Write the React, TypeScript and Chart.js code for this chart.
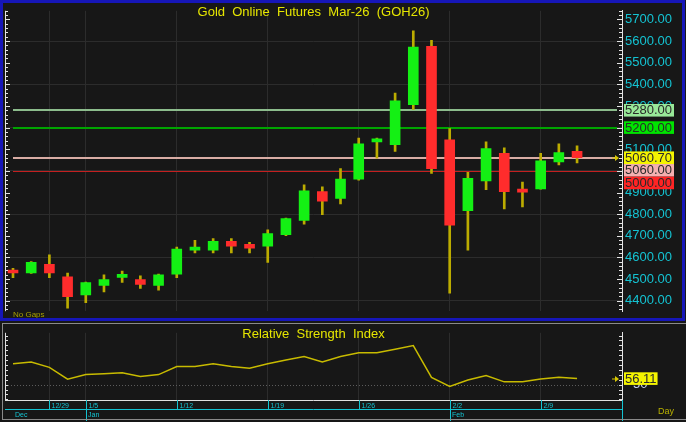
import React, { useEffect, useRef } from 'react';
import { Chart, registerables } from 'chart.js';
Chart.register(...registerables);

// ---------- data ----------
const dates = ['12/24','12/26','12/29','12/30','1/5','1/6','1/7','1/8','1/9','1/12','1/13','1/14','1/15','1/16','1/19','1/20','1/21','1/22','1/23','1/26','1/27','1/28','1/29','1/30','2/2','2/3','2/4','2/5','2/6','2/9','2/10','2/11'];
const opens  = [4542,4528,4568,4510,4427,4471,4508,4497,4471,4523,4634,4634,4674,4661,4652,4705,4771,4904,4873,4962,5134,5121,5306,5576,5143,4816,4953,5081,4906,4917,5041,5090];
const highs  = [4550,4581,4612,4528,4486,4519,4537,4515,4523,4648,4679,4687,4687,4670,4727,4782,4935,4926,5010,5152,5152,5360,5647,5603,5196,4993,5134,5107,4948,5081,5125,5116];
const lows   = [4506,4526,4506,4365,4391,4440,4484,4457,4449,4506,4621,4621,4621,4621,4577,4701,4754,4798,4847,4957,5059,5090,5284,4988,4435,4634,4913,4824,4833,4915,5028,5037];
const closes = [4528,4577,4528,4418,4484,4497,4512,4475,4519,4639,4639,4674,4652,4643,4710,4780,4908,4860,4962,5125,5143,5324,5572,5010,4749,4966,5103,4904,4902,5046,5085,5060.7];
const rsi    = [71.3,73.1,67.6,55.6,60.2,61.1,62.0,58.3,60.2,68.5,68.5,71.3,68.5,66.7,71.3,75.0,78.7,73.1,78.7,82.4,82.4,86.1,89.8,57.4,48.1,54.6,59.3,52.8,52.8,55.6,57.4,56.11];

const weekLabels = ['12/29','1/5','1/12','1/19','1/26','2/2','2/9'];
const monthLabels = ['Dec','Jan','Feb'];
const monthStartDates = ['12/24','1/5','2/2'];
const monthTickDates = ['1/5','2/2'];

const levelValues = [5280, 5200, 5060.7, 5060, 5000];
const levelLabels = levelValues.map(v => v.toFixed(2));

const priceTickValues: number[] = [];
for (let v = 4360; v <= 5740; v += 20) priceTickValues.push(v);
const rsiTickValues: number[] = [];
for (let v = 35; v <= 100; v += 5) rsiTickValues.push(v);

const TITLE = 'Gold  Online  Futures  Mar-26  (GOH26)';
const RSI_TITLE = 'Relative  Strength  Index';

// ---------- styles ----------
const FONT = "'Liberation Sans', Arial, sans-serif";
const BG = '#171717';
const GRID = '#2c2c2c';
const CYAN = '#14c3d2';
const YELLOW = '#e6e600';
const WICK = '#bcac00';
const UP = '#14f014';
const DOWN = '#ff2c2c';
const RSI_COLOR = '#c8bb00';
const levelLineColors = ['#8cbc8c', '#00a400', '#d8aca4', '#e0a0a0', '#c42020'];
const levelLineWidths = [2, 2, 2, 1, 1];
const levelBadgeColors = ['#98e898', '#00e400', '#f4f400', '#f4b0b0', '#ff2424'];

const X_MIN = -0.44;
const X_MAX = 33.47;
const weekIdx = weekLabels.map(l => dates.indexOf(l));

function line(ctx: CanvasRenderingContext2D, x1: number, y1: number, x2: number, y2: number) {
  ctx.beginPath(); ctx.moveTo(x1, y1); ctx.lineTo(x2, y2); ctx.stroke();
}

function arrow(ctx: CanvasRenderingContext2D, x: number, y: number, color: string) {
  ctx.save();
  ctx.strokeStyle = color; ctx.fillStyle = color; ctx.lineWidth = 1;
  line(ctx, x - 6, y + 0.5, x - 1, y + 0.5);
  ctx.beginPath(); ctx.moveTo(x - 3, y - 2.5); ctx.lineTo(x + 1, y + 0.5); ctx.lineTo(x - 3, y + 3.5); ctx.closePath(); ctx.fill();
  ctx.restore();
}

const pricePlugin = {
  id: 'priceDecor',
  beforeDraw(chart: any) {
    const { ctx, width, height } = chart;
    ctx.save(); ctx.fillStyle = BG; ctx.fillRect(0, 0, width, height); ctx.restore();
  },
  beforeDatasetsDraw(chart: any) {
    const { ctx, chartArea, scales: { x, y } } = chart;
    const x0 = x.getPixelForValue(0);
    const x1 = chartArea.right - 5;
    ctx.save();
    for (let i = levelValues.length - 1; i >= 0; i--) {
      const py = Math.round(y.getPixelForValue(levelValues[i])) + (levelLineWidths[i] % 2 ? 0.5 : 0);
      ctx.strokeStyle = levelLineColors[i];
      ctx.lineWidth = levelLineWidths[i];
      line(ctx, x0, py, x1, py);
    }
    ctx.restore();
  },
  afterDraw(chart: any) {
    const { ctx, chartArea: { left, right, top, bottom }, scales: { x, y } } = chart;
    ctx.save();
    // axis ticks (inward)
    ctx.strokeStyle = '#e4e4e4'; ctx.lineWidth = 1;
    line(ctx, left + 0.5, top, left + 0.5, bottom);
    y.ticks.forEach((t: any) => {
      const py = Math.round(y.getPixelForValue(t.value)) + 0.5;
      const len = t.value % 100 === 0 ? 5 : 3;
      line(ctx, right - len, py, right, py);
      line(ctx, left, py, left + len, py);
    });
    // arrow on last price line
    const lastY = Math.round(y.getPixelForValue(levelValues[2]));
    arrow(ctx, right - 4, lastY - 0.5, '#d8c800');
    // badges
    ctx.font = `13px ${FONT}`;
    ctx.textBaseline = 'middle';
    ctx.textAlign = 'left';
    let prevBottom = -Infinity;
    const bh = 12.6;
    levelValues.forEach((v, i) => {
      const py = y.getPixelForValue(v);
      const t = Math.max(py - bh / 2, prevBottom);
      ctx.fillStyle = levelBadgeColors[i];
      ctx.fillRect(right + 2, t, 50, bh);
      ctx.fillStyle = '#2a2a2a';
      ctx.fillText(levelLabels[i], right + 3, t + bh / 2 + 0.5);
      prevBottom = t + bh;
    });
    // title
    ctx.fillStyle = YELLOW;
    ctx.textAlign = 'center';
    ctx.textBaseline = 'alphabetic';
    ctx.font = `13px ${FONT}`;
    ctx.fillText(TITLE, (left + right) / 2, 16);
    // No Gaps
    ctx.textAlign = 'left';
    ctx.fillStyle = '#a8a000';
    ctx.font = `8px ${FONT}`;
    ctx.fillText('No Gaps', 13, 317);
    // frame
    ctx.strokeStyle = '#1616b8'; ctx.lineWidth = 3;
    ctx.strokeRect(1.5, 1.5, 682, 318);
    ctx.restore();
  },
};

const rsiPlugin = {
  id: 'rsiDecor',
  beforeDraw(chart: any) {
    const { ctx, width, height } = chart;
    ctx.save(); ctx.fillStyle = BG; ctx.fillRect(0, 0, width, height); ctx.restore();
  },
  beforeDatasetsDraw(chart: any) {
    const { ctx, chartArea: { left, right }, scales: { y } } = chart;
    ctx.save();
    ctx.strokeStyle = '#5c5c5c'; ctx.lineWidth = 1; ctx.setLineDash([1, 2]);
    const py = Math.round(y.getPixelForValue(50)) + 0.5;
    line(ctx, left, py, right, py);
    ctx.restore();
  },
  afterDraw(chart: any) {
    const { ctx, chartArea: { left, right, top, bottom }, scales: { x, y } } = chart;
    ctx.save();
    // left / bottom axis lines and ticks
    ctx.strokeStyle = '#e0e0e0'; ctx.lineWidth = 1;
    line(ctx, left + 0.5, top, left + 0.5, bottom + 0.5);
    line(ctx, left, bottom + 0.5, right, bottom + 0.5);
    y.ticks.forEach((t: any) => {
      const py = Math.round(y.getPixelForValue(t.value)) + 0.5;
      line(ctx, right - 3, py, right, py);
      line(ctx, left, py, left + 3, py);
    });
    // date row
    ctx.strokeStyle = CYAN;
    line(ctx, left, bottom + 9.5, right, bottom + 9.5);
    line(ctx, right + 0.5, bottom, right + 0.5, bottom + 21);
    ctx.fillStyle = CYAN;
    ctx.font = `7px ${FONT}`;
    ctx.textAlign = 'left';
    ctx.textBaseline = 'alphabetic';
    weekLabels.forEach(l => {
      const px = Math.round(x.getPixelForValue(dates.indexOf(l))) + 0.5;
      const isMonth = monthTickDates.indexOf(l) >= 0;
      line(ctx, px, bottom, px, bottom + (isMonth ? 21 : 9));
      ctx.fillText(l, px + 2, bottom + 8);
    });
    monthLabels.forEach((m, i) => {
      const px = x.getPixelForValue(dates.indexOf(monthStartDates[i]));
      ctx.fillText(m, Math.round(px) + 2, bottom + 17);
    });
    // Day
    ctx.fillStyle = '#b8b000';
    ctx.font = `9px ${FONT}`;
    ctx.fillText('Day', 658, bottom + 14);
    // RSI badge
    const last = rsi[rsi.length - 1];
    const py = y.getPixelForValue(last);
    arrow(ctx, right - 4, Math.round(py) - 0.5, '#d8c800');
    ctx.font = `13px ${FONT}`;
    const txt = last.toFixed(2);
    const w = ctx.measureText(txt).width;
    ctx.fillStyle = '#f4f400';
    ctx.fillRect(right + 2, py - 6.3, w + 2, 12.6);
    ctx.fillStyle = '#2a2a2a';
    ctx.textBaseline = 'middle';
    ctx.fillText(txt, right + 3, py + 0.5);
    // title
    ctx.fillStyle = YELLOW;
    ctx.textAlign = 'center';
    ctx.textBaseline = 'alphabetic';
    ctx.fillText(RSI_TITLE, (left + right) / 2, 16);
    // frame
    ctx.strokeStyle = '#8a8a8a'; ctx.lineWidth = 1;
    line(ctx, 2, 1.5, 686, 1.5);
    line(ctx, 2.5, 1, 2.5, 98);
    line(ctx, 2, 97.5, 686, 97.5);
    ctx.restore();
  },
};

function xScale() {
  return {
    type: 'linear' as const,
    min: X_MIN,
    max: X_MAX,
    offset: false,
    afterBuildTicks: (s: any) => { s.ticks = weekIdx.map(v => ({ value: v })); },
    afterFit: (s: any) => { s.height = 0; },
    ticks: { display: false },
    grid: { color: GRID, drawTicks: false, offset: false },
    border: { display: false },
  };
}

export default function App() {
  const priceRef = useRef<HTMLCanvasElement | null>(null);
  const rsiRef = useRef<HTMLCanvasElement | null>(null);

  useEffect(() => {
    document.body.style.margin = '0';
    const bodyColors = closes.map((c, i) => (c >= opens[i] ? UP : DOWN));
    const price = new Chart(priceRef.current as HTMLCanvasElement, {
      type: 'bar',
      data: {
        datasets: [
          {
            label: 'body',
            data: dates.map((_, i) => ({ x: i, y: [opens[i], closes[i]] })) as any,
            backgroundColor: bodyColors,
            barThickness: 10,
            minBarLength: 3,
            grouped: false,
            order: 0,
          } as any,
          {
            label: 'wick',
            data: dates.map((_, i) => ({ x: i, y: [lows[i], highs[i]] })) as any,
            backgroundColor: WICK,
            barThickness: 2,
            grouped: false,
            order: 1,
          } as any,
        ],
      },
      options: {
        animation: false,
        responsive: false,
        devicePixelRatio: 1,
        events: [],
        layout: { padding: { left: 5, top: 4, right: 0, bottom: 4 } },
        plugins: { legend: { display: false }, tooltip: { enabled: false }, title: { display: false } },
        scales: {
          x: xScale() as any,
          y: {
            type: 'linear',
            position: 'right',
            min: 4351.4,
            max: 5739.8,
            beginAtZero: false,
            afterBuildTicks: (s: any) => { s.ticks = priceTickValues.map(v => ({ value: v })); },
            afterFit: (s: any) => { s.width = 64; },
            ticks: {
              autoSkip: false,
              color: CYAN,
              font: { family: FONT, size: 13 },
              padding: 3,
              callback: (v: any) => (Number(v) % 100 === 0 ? Number(v).toFixed(2) : ''),
            },
            grid: {
              drawTicks: false,
              color: (c: any) => (c.tick && c.tick.value % 200 === 0 ? GRID : 'rgba(0,0,0,0)'),
            },
            border: { color: '#e4e4e4' },
          } as any,
        },
      },
      plugins: [pricePlugin],
    });

    const r = new Chart(rsiRef.current as HTMLCanvasElement, {
      type: 'line',
      data: {
        datasets: [
          {
            label: 'RSI',
            data: rsi.map((v, i) => ({ x: i, y: v })),
            borderColor: RSI_COLOR,
            borderWidth: 1.5,
            pointRadius: 0,
            tension: 0,
          },
        ],
      },
      options: {
        animation: false,
        responsive: false,
        devicePixelRatio: 1,
        events: [],
        layout: { padding: { left: 5, top: 4, right: 0, bottom: 22 } },
        plugins: { legend: { display: false }, tooltip: { enabled: false }, title: { display: false } },
        scales: {
          x: xScale() as any,
          y: {
            type: 'linear',
            position: 'right',
            min: 34.3,
            max: 102.8,
            afterBuildTicks: (s: any) => { s.ticks = rsiTickValues.map(v => ({ value: v })); },
            afterFit: (s: any) => { s.width = 64; },
            ticks: {
              autoSkip: false,
              color: '#c4d0f0',
              font: { family: FONT, size: 13 },
              padding: 3,
              callback: (v: any) => (Number(v) === 50 ? '50' : ''),
            },
            grid: { display: false },
            border: { color: '#e4e4e4' },
          } as any,
        },
      },
      plugins: [rsiPlugin],
    });

    return () => { price.destroy(); r.destroy(); };
  }, []);

  return (
    <div style={{ position: 'fixed', left: 0, top: 0, width: 686, height: 422, background: BG, overflow: 'hidden' }}>
      <canvas ref={priceRef} width={686} height={322} style={{ position: 'absolute', left: 0, top: 0, width: 686, height: 322 }} />
      <canvas ref={rsiRef} width={686} height={100} style={{ position: 'absolute', left: 0, top: 322, width: 686, height: 100 }} />
    </div>
  );
}
